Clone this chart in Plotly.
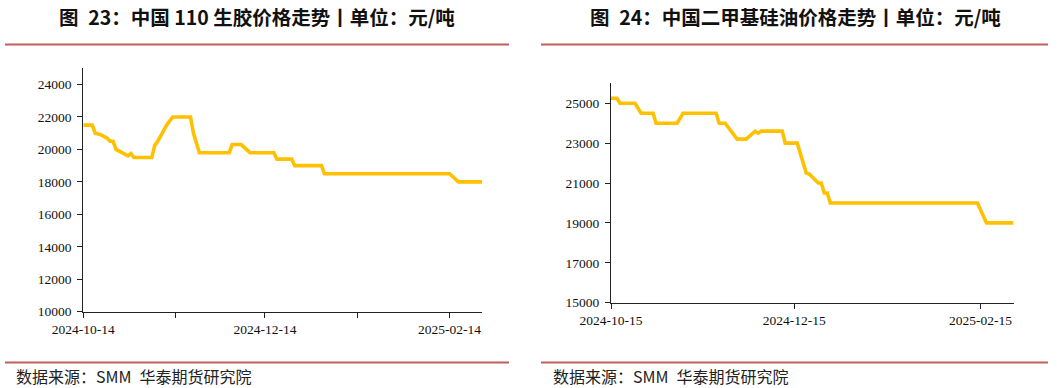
import plotly.graph_objects as go

# ---- Data: chart 23 (China 110 raw rubber price, CNY/t) ----
rubber_dates = ["2024-10-14", "2024-10-17", "2024-10-18", "2024-10-20", "2024-10-22",
                "2024-10-23", "2024-10-24", "2024-10-25", "2024-10-29", "2024-10-30",
                "2024-10-31", "2024-11-06", "2024-11-07", "2024-11-08", "2024-11-11",
                "2024-11-13", "2024-11-19", "2024-11-20", "2024-11-22", "2024-12-02",
                "2024-12-03", "2024-12-06", "2024-12-09", "2024-12-17", "2024-12-18",
                "2024-12-23", "2024-12-24", "2025-01-02", "2025-01-03", "2025-02-14",
                "2025-02-17", "2025-02-25"]
rubber_values = [21500, 21500, 21000, 20900, 20700,
                 20500, 20500, 20000, 19600, 19750,
                 19500, 19500, 20250, 20500, 21500,
                 22000, 22000, 21000, 19800, 19800,
                 20300, 20300, 19800, 19800, 19400,
                 19400, 19000, 19000, 18500, 18500,
                 18000, 18000]
rubber_tickvals = ["2024-10-14", "2024-11-14", "2024-12-14", "2025-01-14", "2025-02-14"]
rubber_ticktext = ["2024-10-14", "", "2024-12-14", "", "2025-02-14"]
rubber_yticks = [10000, 12000, 14000, 16000, 18000, 20000, 22000, 24000]

# ---- Data: chart 24 (China DMC silicone oil price, CNY/t) ----
silicone_dates = ["2024-10-15", "2024-10-17", "2024-10-18", "2024-10-23", "2024-10-25",
                  "2024-10-29", "2024-10-30", "2024-11-06", "2024-11-08", "2024-11-19",
                  "2024-11-20", "2024-11-22", "2024-11-26", "2024-11-29", "2024-12-02",
                  "2024-12-03", "2024-12-04", "2024-12-11", "2024-12-12", "2024-12-16",
                  "2024-12-19", "2024-12-20", "2024-12-23", "2024-12-24", "2024-12-25",
                  "2024-12-26", "2024-12-27", "2025-02-14", "2025-02-17", "2025-02-26"]
silicone_values = [25250, 25250, 25000, 25000, 24500,
                   24500, 24000, 24000, 24500, 24500,
                   24000, 24000, 23200, 23200, 23600,
                   23500, 23600, 23600, 23000, 23000,
                   21500, 21450, 21000, 21000, 20500,
                   20500, 20000, 20000, 19000, 19000]
silicone_tickvals = ["2024-10-15", "2024-12-15", "2025-02-15"]
silicone_ticktext = ["2024-10-15", "2024-12-15", "2025-02-15"]
silicone_yticks = [15000, 17000, 19000, 21000, 23000, 25000]

SP = "\u2002"  # en space, to mimic the wider spacing of the original title font
title_left = "图" + SP + "23：中国 110 生胶价格走势丨单位：元/吨"
title_right = "图" + SP + "24：中国二甲基硅油价格走势丨单位：元/吨"
source_text = "数据来源：SMM" + SP + "华泰期货研究院"

W, H = 1057, 388
LINE_COLOR = "#FFC000"
RED = "#C0605C"
TICK_FONT = dict(family="Liberation Serif, Times New Roman, serif", size=13.5, color="#111111")

fig = go.Figure()
fig.add_trace(go.Scatter(x=rubber_dates, y=rubber_values, mode="lines",
                         line=dict(color=LINE_COLOR, width=3.6), xaxis="x", yaxis="y",
                         showlegend=False, hoverinfo="x+y"))
fig.add_trace(go.Scatter(x=silicone_dates, y=silicone_values, mode="lines",
                         line=dict(color=LINE_COLOR, width=3.6), xaxis="x2", yaxis="y2",
                         showlegend=False, hoverinfo="x+y"))

def px_x(p):
    return p / W

def px_y(p):
    return 1 - p / H

axis_common = dict(showgrid=False, zeroline=False, showline=True, linecolor="#222222",
                   linewidth=1.3, ticks="outside", ticklen=5, tickwidth=1.2,
                   tickcolor="#222222", tickfont=TICK_FONT, fixedrange=True,
                   automargin=False)

fig.update_layout(
    width=W, height=H,
    margin=dict(l=0, r=0, t=0, b=0, pad=0, autoexpand=False),
    paper_bgcolor="white", plot_bgcolor="white",
    xaxis=dict(domain=[px_x(83.3), px_x(482.3)], anchor="y", type="date",
               range=[rubber_dates[0], rubber_dates[-1]],
               tickmode="array", tickvals=rubber_tickvals, ticktext=rubber_ticktext,
               **axis_common),
    yaxis=dict(domain=[px_y(311.7), px_y(68.3)], anchor="x",
               range=[10000, 25000], tickmode="array", tickvals=rubber_yticks,
               ticktext=[str(v) for v in rubber_yticks], ticklabelstandoff=3,
               **axis_common),
    xaxis2=dict(domain=[px_x(611), px_x(1013.5)], anchor="y2", type="date",
                range=[silicone_dates[0], silicone_dates[-1]],
                tickmode="array", tickvals=silicone_tickvals, ticktext=silicone_ticktext,
                **axis_common),
    yaxis2=dict(domain=[px_y(302.7), px_y(83.3)], anchor="x2",
                range=[15000, 26000], tickmode="array", tickvals=silicone_yticks,
                ticktext=[str(v) for v in silicone_yticks], ticklabelstandoff=3,
                **axis_common),
)

TITLE_FONT = dict(family="Noto Sans CJK SC, sans-serif", size=19.5, color="#111111")
SRC_FONT = dict(family="Noto Sans CJK SC, sans-serif", size=16, color="#222222")

fig.add_annotation(text="<b>" + title_left + "</b>", xref="paper", yref="paper",
                   x=px_x(256.5), y=px_y(16.5), xanchor="center", yanchor="middle",
                   showarrow=False, font=TITLE_FONT)
fig.add_annotation(text="<b>" + title_right + "</b>", xref="paper", yref="paper",
                   x=px_x(795), y=px_y(16.5), xanchor="center", yanchor="middle",
                   showarrow=False, font=TITLE_FONT)
fig.add_annotation(text=source_text, xref="paper", yref="paper",
                   x=px_x(14), y=px_y(375.5), xanchor="left", yanchor="middle",
                   showarrow=False, font=SRC_FONT)
fig.add_annotation(text=source_text, xref="paper", yref="paper",
                   x=px_x(551), y=px_y(375.5), xanchor="left", yanchor="middle",
                   showarrow=False, font=SRC_FONT)

for x0, x1 in [(5, 509), (541, 1048)]:
    for yy in (44.5, 362.5):
        fig.add_shape(type="line", xref="paper", yref="paper",
                      x0=px_x(x0), x1=px_x(x1), y0=px_y(yy), y1=px_y(yy),
                      line=dict(color=RED, width=2))

fig.write_html("out.html", config={"displayModeBar": False},
               post_script="document.body.style.margin='0';document.body.style.padding='0';")
